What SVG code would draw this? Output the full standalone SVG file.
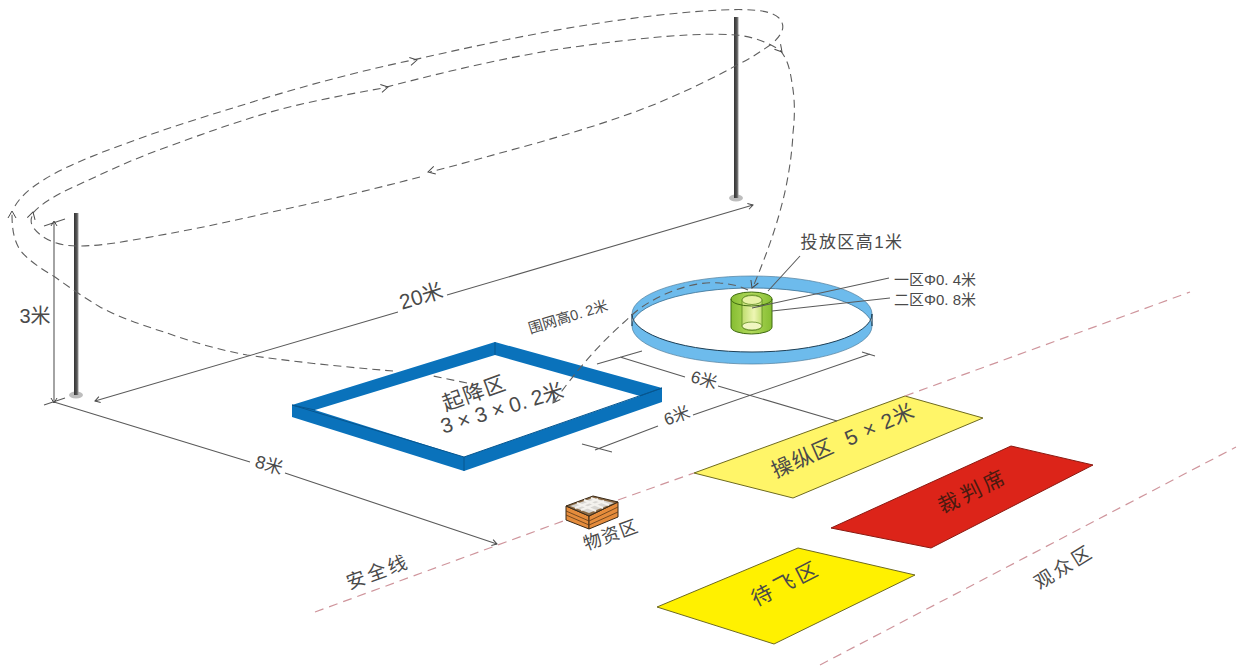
<svg xmlns="http://www.w3.org/2000/svg" width="1243" height="669" viewBox="0 0 1243 669">
<style>
text{font-family:"Liberation Sans","Noto Sans CJK SC",sans-serif;fill:#4a4a4a;text-anchor:middle;dominant-baseline:central}
.dash{fill:none;stroke:#5f5f5f;stroke-width:1.1;stroke-dasharray:8 5}
.dim{fill:none;stroke:#5a5a5a;stroke-width:1.1}
.safe{fill:none;stroke:#cf959c;stroke-width:1.2;stroke-dasharray:9 6}
.chev{fill:none;stroke:#4a4a4a;stroke-width:1}
.fr{fill:#0a72bb}
.frl{fill:none;stroke:#07568f;stroke-width:1}
.box{fill:#e58c3c;stroke:#3a2a18;stroke-width:1}
</style>
<defs>
<path id="chev" class="chev" d="M-7,-4 L0,0 L-7,4"/>
<path id="chevs" class="chev" d="M-5,-3 L0,0 L-5,3"/>
<linearGradient id="pole" x1="0" x2="1" y1="0" y2="0"><stop offset="0" stop-color="#333"/><stop offset=".6" stop-color="#555"/><stop offset="1" stop-color="#999"/></linearGradient>
<linearGradient id="cyl" x1="0" x2="1" y1="0" y2="0"><stop offset="0" stop-color="#86bd32"/><stop offset=".5" stop-color="#b2da5c"/><stop offset="1" stop-color="#86bd32"/></linearGradient>
<linearGradient id="cyl2" x1="0" x2="1" y1="0" y2="0"><stop offset="0" stop-color="#bddc6c"/><stop offset=".6" stop-color="#eef6b4"/><stop offset="1" stop-color="#c2df74"/></linearGradient>
</defs>

<g id="pole-left">
<ellipse cx="76" cy="395" rx="7" ry="3.5" fill="#bdbdbd"/>
<rect x="74" y="213" width="4.5" height="182" fill="url(#pole)"/>
</g>
<g id="pole-right">
<ellipse cx="736" cy="198" rx="7" ry="3.5" fill="#bdbdbd"/>
<rect x="734" y="17" width="4.5" height="181" fill="url(#pole)"/>
</g>

<g id="takeoff-zone">
<path class="fr" fill-rule="evenodd" d="M292,405 L495,342 L662,388 L662,402 L464,471 L292,417 Z M315,410 L464,457 L640,396 L495,355 Z"/>
<path class="frl" d="M292,405 L464,457 L662,388 M292,405 L315,410 M495,342 V355 M662,388 L640,396 M464,457 V471"/>
<text transform="translate(474,393) rotate(-20)" font-size="21" letter-spacing="1">起降区</text>
<text transform="translate(502,408) rotate(-17)" font-size="21">3 × 3 × 0. 2米</text>
</g>

<g id="drop-ring">
<path d="M632,314 A120,38 0 0 1 872,314 V326 A120,38 0 0 1 632,326 Z" fill="#6dbbec" stroke="#4d7d9c" stroke-width=".7"/>
<path d="M632,326 A120,38 0 0 1 872,326 V314 A120,38 0 0 1 632,314 Z" fill="#fff" stroke="none"/>
<path d="M632,314 A120,38 0 0 0 872,314" fill="none" stroke="#1f3f55" stroke-width="1"/>
<path d="M632,326 A120,38 0 0 1 872,326" fill="none" stroke="#3a6f92" stroke-width=".8"/>
<path d="M632,314 V326 M872,314 V326" stroke="#1f3f55" stroke-width="1"/>
</g>

<g id="drop-cylinder">
<path d="M731,299 A20.5,7 0 0 1 772,299 V327 A20.5,7 0 0 1 731,327 Z" fill="url(#cyl)" stroke="#3f6a10"/>
<path d="M742,300 A10,5 0 0 1 762,300 V326 A10,4.5 0 0 1 742,326 Z" fill="url(#cyl2)" stroke="#5d8a1e" stroke-width=".8"/>
<ellipse cx="752" cy="300" rx="10" ry="4.5" fill="#e8f2a6" stroke="#5d8a1e" stroke-width=".8"/>
<ellipse cx="752" cy="326" rx="10" ry="4" fill="#f0f6c0" stroke="#5d8a1e" stroke-width=".8"/>
<path d="M731,299 A20.5,7 0 0 0 772,299" fill="none" stroke="#3f6a10"/>
</g>

<g id="zone-control">
<path d="M694,473 L905,396 L983,418 L793,498 Z" fill="#fff568" stroke="#6e6a1f"/>
<text transform="translate(843,440) rotate(-24)" font-size="21" letter-spacing="1">操纵区<tspan dx="14">5 × 2米</tspan></text>
</g>
<g id="zone-judge">
<path d="M831,528 L1011,446 L1093,465 L931,548 Z" fill="#dc2419" stroke="#8a1a12"/>
<text transform="translate(973,491) rotate(-26)" font-size="21" letter-spacing="4" style="fill:#4a1a10">裁判席</text>
</g>
<g id="zone-wait">
<path d="M657,607 L798,548 L915,575 L774,644 Z" fill="#fff100" stroke="#6e6a1f"/>
<text transform="translate(786,583) rotate(-27)" font-size="21" letter-spacing="4">待飞区</text>
</g>

<g id="supply-box">
<path class="box" d="M566,506 L589,516 V529 L566,520 Z"/>
<path class="box" d="M589,516 L618,502 V517 L589,529 Z"/>
<path d="M566,506 L593,496 L618,502 L589,516 Z" fill="#8a6a45" stroke="#3a2a18"/>
<path d="M570,506 L593,498 L614,503 L589,513 Z" fill="#d8d6d2"/>
<path d="M577,503 L596,511 M584,500 L603,508 M591,498 L609,505 M575,508 L598,499 M581,510 L604,501" fill="none" stroke="#f4f2ee" stroke-width="2"/>
<path d="M566,511 L589,521 L618,507 M566,515 L589,525 L618,512" fill="none" stroke="#5a3a18" stroke-width=".8"/>
<text transform="translate(611,535) rotate(-20)" font-size="18" letter-spacing="1">物资区</text>
</g>

<g id="labels">
<text x="35" y="316" font-size="20">3米</text>
<text transform="translate(421,296) rotate(-17)" font-size="21">20米</text>
<text transform="translate(269,465) rotate(16)" font-size="18">8米</text>
<text transform="translate(704,380) rotate(16)" font-size="17">6米</text>
<text transform="translate(677,416) rotate(-20)" font-size="17">6米</text>
<text x="852" y="242" font-size="17" letter-spacing="1.4">投放区高1米</text>
<text x="935" y="279" font-size="15">一区Φ0. 4米</text>
<text x="935" y="299" font-size="15">二区Φ0. 8米</text>
<text transform="translate(568,317) rotate(-17)" font-size="14.5">围网高0. 2米</text>
<text transform="translate(378,572) rotate(-20)" font-size="19" letter-spacing="3">安全线</text>
<text transform="translate(1064,567) rotate(-32)" font-size="19" letter-spacing="3">观众区</text>
</g>

<g id="connectors">
<path class="safe" d="M315,612 L566,520 M618,500 L694,473 M905,396 L1190,292"/>
<path class="safe" d="M820,665 L1236,447"/>
<path class="dim" d="M54,222 V403 M44,226 L65,219 M44,405 L65,398 M54,402 L250,462 M285,473 L497,544"/>
<path class="dim" d="M95,401 L398,312 M447,295 L753,205"/>
<path class="dim" d="M597,364 L642,351 M620,357 L685,377 M718,386 L837,421 M862,352 L875,356 M870,354 L693,415 M658,426 L595,450 M582,444 L612,452"/>
<path class="dim" d="M800,256 L768,291 M889,278 L752,308 M890,298 L772,311"/>
<path class="dash" d="M15,206 C30,180 80,160 130,142 C165,129 200,118 233,108 C290,90 350,73 413,60 C470,47 530,34 587,25 C630,18 680,12 720,10 C745,9 770,9 779,18 C786,26 783,33 773,43 C760,52 750,59 737,65 C710,80 680,94 653,105 C615,120 575,132 537,143 C500,153 465,163 430,172"/>
<path class="dash" d="M420,177 C370,190 320,202 267,213 C220,224 175,233 133,240 C110,244 95,246 77,246 C60,246 42,240 33,227 C30,222 31,218 33,214"/>
<path class="dash" d="M33,213 C41,204 53,197 67,190 C100,175 130,160 167,147 C200,135 230,124 267,113 C305,102 345,95 383,88 C440,73 495,60 553,50 C600,43 650,37 687,35 C705,34 722,34 737,35 C755,37 768,43 780,50 C788,60 790,70 792,83 C795,100 795,115 793,133 C792,155 788,180 783,200 C775,232 765,258 753,287"/>
<path class="dash" d="M393,371 C345,367 295,362 247,355 C220,350 192,342 167,333 C145,326 120,318 100,307 C85,298 70,288 55,277 C40,268 28,260 20,250 C14,240 12,230 12,214"/>
<path class="dash" d="M467,383 L433,376"/>
<path class="dash" d="M748,290 C742,287 733,284 720,283 C690,280 650,298 632,315 C610,335 590,352 553,403"/>
<use href="#chev" transform="translate(417,60) rotate(-12)"/>
<use href="#chev" transform="translate(388,87) rotate(-12)"/>
<use href="#chev" transform="translate(428,172) rotate(165)"/>
<use href="#chev" transform="translate(33,212) rotate(-75)"/>
<use href="#chev" transform="translate(12,211) rotate(-90)"/>
<use href="#chev" transform="translate(782,52) rotate(50)"/>
<use href="#chev" transform="translate(752,288) rotate(112)"/>
<use href="#chev" transform="translate(553,403) rotate(125)"/>
<use href="#chevs" transform="translate(54,221) rotate(-90)"/>
<use href="#chevs" transform="translate(54,403) rotate(90)"/>
<use href="#chevs" transform="translate(95,401) rotate(163)"/>
<use href="#chevs" transform="translate(753,205) rotate(-16)"/>
<use href="#chevs" transform="translate(497,544) rotate(17)"/>
</g>
</svg>
